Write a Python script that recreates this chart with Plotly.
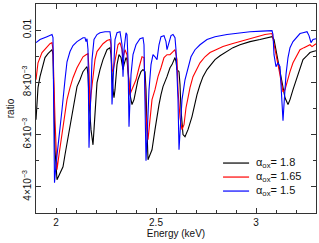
import plotly.graph_objects as go

# ---------------- data ----------------
energy_18 = [1.900, 1.905, 1.910, 1.920, 1.930, 1.945, 1.960, 1.970, 1.980, 1.985, 1.990, 1.995, 2.005,
             2.020, 2.035, 2.045, 2.055, 2.070, 2.085, 2.095, 2.105, 2.120, 2.135, 2.150, 2.155, 2.160,
             2.165, 2.175, 2.185, 2.190, 2.195, 2.205, 2.220, 2.235, 2.255, 2.270, 2.275, 2.280, 2.285,
             2.290, 2.295, 2.305, 2.315, 2.325, 2.335, 2.340, 2.350, 2.355, 2.360, 2.370, 2.380, 2.390,
             2.400, 2.410, 2.425, 2.435, 2.445, 2.450, 2.455, 2.460, 2.470, 2.480, 2.495, 2.505, 2.515,
             2.525, 2.535, 2.555, 2.570, 2.580, 2.595, 2.600, 2.605, 2.615, 2.620, 2.625, 2.635, 2.645,
             2.660, 2.680, 2.695, 2.705, 2.720, 2.735, 2.755, 2.770, 2.795, 2.820, 2.855, 2.885, 2.920,
             2.970, 3.020, 3.055, 3.080, 3.090, 3.100, 3.110, 3.120, 3.130, 3.145, 3.160, 3.170, 3.185,
             3.205, 3.220, 3.235, 3.255, 3.270, 3.285, 3.300]
ratio_18 = [0.00657, 0.00734, 0.00780, 0.00822, 0.00856, 0.00895, 0.00910, 0.00918, 0.00925, 0.00906,
            0.00772, 0.00542, 0.00427, 0.00454, 0.00477, 0.00523, 0.00569, 0.00630, 0.00695, 0.00741,
            0.00784, 0.00810, 0.00841, 0.00856, 0.00860, 0.00830, 0.00734, 0.00619, 0.00561, 0.00619,
            0.00695, 0.00799, 0.00849, 0.00887, 0.00925, 0.00933, 0.00906, 0.00830, 0.00772, 0.00741,
            0.00772, 0.00868, 0.00906, 0.00895, 0.00849, 0.00868, 0.00895, 0.00887, 0.00830, 0.00753,
            0.00715, 0.00734, 0.00772, 0.00810, 0.00841, 0.00849, 0.00841, 0.00772, 0.00619, 0.00504,
            0.00523, 0.00542, 0.00619, 0.00676, 0.00715, 0.00753, 0.00784, 0.00822, 0.00856, 0.00868,
            0.00895, 0.00879, 0.00849, 0.00841, 0.00791, 0.00695, 0.00600, 0.00592, 0.00619, 0.00669,
            0.00722, 0.00753, 0.00791, 0.00822, 0.00849, 0.00864, 0.00887, 0.00902, 0.00918, 0.00933,
            0.00944, 0.00956, 0.00964, 0.00971, 0.00975, 0.00964, 0.00925, 0.00887, 0.00849, 0.00803,
            0.00741, 0.00715, 0.00734, 0.00772, 0.00818, 0.00856, 0.00887, 0.00902, 0.00914, 0.00918,
            0.00921]

energy_165 = [1.900, 1.910, 1.930, 1.955, 1.970, 1.980, 1.985, 1.995, 2.005, 2.015, 2.025, 2.035, 2.045,
              2.055, 2.070, 2.085, 2.105, 2.120, 2.135, 2.150, 2.160, 2.165, 2.170, 2.175, 2.185, 2.195,
              2.205, 2.220, 2.235, 2.255, 2.270, 2.275, 2.280, 2.285, 2.295, 2.310, 2.320, 2.330, 2.335,
              2.340, 2.345, 2.355, 2.360, 2.365, 2.370, 2.375, 2.385, 2.400, 2.415, 2.430, 2.440, 2.445,
              2.450, 2.460, 2.470, 2.480, 2.495, 2.510, 2.525, 2.540, 2.555, 2.570, 2.585, 2.595, 2.605,
              2.610, 2.620, 2.630, 2.640, 2.650, 2.660, 2.670, 2.685, 2.705, 2.720, 2.745, 2.770, 2.800,
              2.835, 2.880, 2.920, 2.970, 3.005, 3.045, 3.080, 3.085, 3.095, 3.105, 3.115, 3.125, 3.135,
              3.145, 3.155, 3.170, 3.185, 3.205, 3.220, 3.240, 3.255, 3.270, 3.280, 3.290, 3.300]
ratio_165 = [0.00810, 0.00875, 0.00914, 0.00937, 0.00948, 0.00952, 0.00925, 0.00657, 0.00466, 0.00523,
             0.00581, 0.00619, 0.00688, 0.00734, 0.00780, 0.00818, 0.00856, 0.00879, 0.00898, 0.00906,
             0.00910, 0.00849, 0.00695, 0.00753, 0.00830, 0.00887, 0.00918, 0.00933, 0.00948, 0.00960,
             0.00964, 0.00944, 0.00849, 0.00841, 0.00887, 0.00944, 0.00952, 0.00925, 0.00895, 0.00906,
             0.00925, 0.00906, 0.00849, 0.00772, 0.00753, 0.00764, 0.00780, 0.00810, 0.00856, 0.00898,
             0.00895, 0.00810, 0.00676, 0.00581, 0.00657, 0.00734, 0.00772, 0.00822, 0.00856, 0.00895,
             0.00906, 0.00906, 0.00918, 0.00925, 0.00887, 0.00772, 0.00665, 0.00619, 0.00638, 0.00703,
             0.00741, 0.00780, 0.00822, 0.00856, 0.00875, 0.00898, 0.00914, 0.00925, 0.00937, 0.00948,
             0.00956, 0.00967, 0.00975, 0.00983, 0.00987, 0.00964, 0.00918, 0.00887, 0.00849, 0.00810,
             0.00764, 0.00772, 0.00803, 0.00841, 0.00875, 0.00906, 0.00925, 0.00933, 0.00937, 0.00944,
             0.00937, 0.00941, 0.00948]

energy_15 = [1.900, 1.920, 1.955, 1.970, 1.980, 1.985, 1.9925, 2.000, 2.015, 2.030, 2.045, 2.055, 2.070,
             2.085, 2.105, 2.120, 2.135, 2.145, 2.150, 2.155, 2.160, 2.165, 2.170, 2.180, 2.190, 2.205,
             2.220, 2.245, 2.270, 2.275, 2.280, 2.285, 2.295, 2.305, 2.320, 2.330, 2.335, 2.340, 2.350,
             2.355, 2.360, 2.365, 2.370, 2.375, 2.385, 2.400, 2.420, 2.435, 2.440, 2.445, 2.450, 2.455,
             2.465, 2.475, 2.485, 2.495, 2.505, 2.515, 2.525, 2.540, 2.550, 2.555, 2.565, 2.575, 2.585,
             2.595, 2.600, 2.610, 2.615, 2.620, 2.630, 2.645, 2.660, 2.675, 2.695, 2.720, 2.755, 2.795,
             2.855, 2.920, 2.970, 3.030, 3.080, 3.085, 3.090, 3.100, 3.110, 3.120, 3.125, 3.130, 3.135,
             3.140, 3.150, 3.160, 3.170, 3.185, 3.205, 3.220, 3.235, 3.255, 3.265, 3.275, 3.285, 3.300]
ratio_15 = [0.00952, 0.00964, 0.00975, 0.00979, 0.00983, 0.00971, 0.00416, 0.00485, 0.00581, 0.00695,
            0.00810, 0.00879, 0.00918, 0.00941, 0.00956, 0.00964, 0.00971, 0.00971, 0.00956, 0.00967,
            0.00925, 0.00550, 0.00657, 0.00887, 0.00964, 0.00983, 0.00990, 0.00994, 0.00994, 0.00964,
            0.00715, 0.00810, 0.00964, 0.00990, 0.00994, 0.00944, 0.00822, 0.00925, 0.00990, 0.00983,
            0.00887, 0.00630, 0.00734, 0.00830, 0.00906, 0.00944, 0.00967, 0.00971, 0.00944, 0.00772,
            0.00500, 0.00581, 0.00772, 0.00868, 0.00906, 0.00898, 0.00887, 0.00944, 0.00975, 0.00979,
            0.00956, 0.00925, 0.00956, 0.00979, 0.00983, 0.00971, 0.00925, 0.00734, 0.00542, 0.00600,
            0.00734, 0.00810, 0.00860, 0.00898, 0.00925, 0.00944, 0.00964, 0.00975, 0.00983, 0.00990,
            0.00994, 0.00996, 0.00998, 0.00983, 0.00906, 0.00860, 0.00875, 0.00860, 0.00791, 0.00695,
            0.00653, 0.00715, 0.00830, 0.00895, 0.00933, 0.00956, 0.00975, 0.00987, 0.00990, 0.00994,
            0.00979, 0.00952, 0.00964, 0.00967]

series_names = ["α<sub>ox</sub>= 1.8", "α<sub>ox</sub>= 1.65", "α<sub>ox</sub>= 1.5"]
series_colors = ["#000000", "#ff0000", "#0000ff"]

x_tick_vals = [2, 2.5, 3]
x_tick_text = ["2", "2.5", "3"]
y_tick_vals = [0.004, 0.006, 0.008, 0.01]
y_tick_text = ["4×10<sup>−3</sup>", "6×10<sup>−3</sup>", "8×10<sup>−3</sup>", "0.01"]

# ---------------- figure ----------------
FONT = "Liberation Sans, Arial, Helvetica, sans-serif"
TXT = "#111111"
fig = go.Figure()
data = [(energy_18, ratio_18), (energy_165, ratio_165), (energy_15, ratio_15)]
for (ex, ry), name, col in zip(data, series_names, series_colors):
    fig.add_trace(go.Scatter(x=ex, y=ry, mode="lines", name=name,
                             line=dict(color=col, width=1.1), showlegend=False))

axis_common = dict(showline=True, linecolor="#333333", linewidth=1, mirror="ticks",
                   ticks="inside", ticklen=5, tickwidth=1, tickcolor="#333333",
                   showgrid=False, zeroline=False, automargin=False,
                   tickfont=dict(family=FONT, size=10, color=TXT))

fig.update_xaxes(range=[1.9, 3.3], tickmode="array", tickvals=x_tick_vals, ticktext=x_tick_text,
                 minor=dict(tickmode="linear", tick0=1.9, dtick=0.1, ticks="inside", ticklen=3,
                            tickcolor="#333333"),
                 title=dict(text="Energy (keV)", font=dict(family=FONT, size=10, color=TXT),
                            standoff=2),
                 **axis_common)
fig.update_yaxes(range=[0.003, 0.011], tickmode="array", tickvals=y_tick_vals, ticktext=y_tick_text,
                 tickangle=-90,
                 minor=dict(tickmode="linear", tick0=0, dtick=0.001, ticks="inside", ticklen=3,
                            tickcolor="#333333"),
                 title=dict(text="ratio", font=dict(family=FONT, size=10, color=TXT),
                            standoff=4),
                 **axis_common)

# legend drawn as sample lines + text labels (paper coordinates)
leg_y = [0.239, 0.172, 0.105]
for yy, name, col in zip(leg_y, series_names, series_colors):
    fig.add_shape(type="line", xref="paper", yref="paper", x0=0.668, x1=0.761, y0=yy, y1=yy,
                  line=dict(color=col, width=1.2))
    fig.add_annotation(xref="paper", yref="paper", x=0.779, y=yy, text=name, showarrow=False,
                       xanchor="left", yanchor="middle",
                       font=dict(family=FONT, size=11, color=TXT))

fig.update_layout(width=319, height=243, margin=dict(l=36, r=3, t=4, b=30, autoexpand=False),
                  paper_bgcolor="white", plot_bgcolor="white",
                  font=dict(family=FONT, size=10, color=TXT))

fig.write_html("out.html", config={"displayModeBar": False, "staticPlot": True},
               post_script="document.body.style.margin='0';document.body.style.padding='0';"
                           "document.body.style.overflow='hidden';")
